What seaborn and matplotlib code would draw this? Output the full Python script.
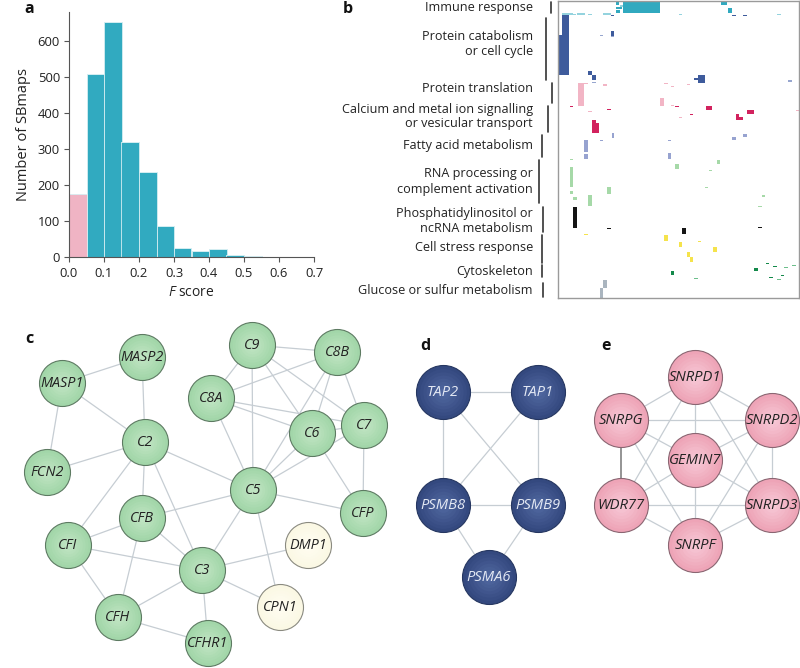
import numpy as np
import pandas as pd
import matplotlib
matplotlib.use("Agg")
import matplotlib.pyplot as plt
from matplotlib.colors import ListedColormap, to_rgb
import seaborn as sns

sns.set_style("white")
plt.rcParams['font.family'] = ['Open Sans', 'DejaVu Sans']
plt.rcParams['mathtext.fontset'] = 'custom'
plt.rcParams['mathtext.rm'] = 'Open Sans'
plt.rcParams['mathtext.it'] = 'Open Sans:italic'

# ---------------- Panel a data ----------------
bin_edges = [0.0, 0.05, 0.10, 0.15, 0.20, 0.25, 0.30, 0.35, 0.40, 0.45, 0.50, 0.55, 0.60, 0.65, 0.70]
bin_counts = [176, 507, 651, 318, 236, 86, 26, 17, 23, 5, 3, 1, 1, 0]
bin_group = ['low'] + ['high'] * 13
xticks_a = [0.0, 0.1, 0.2, 0.3, 0.4, 0.5, 0.6, 0.7]
yticks_a = [0, 100, 200, 300, 400, 500, 600]

# ---------------- Panel b data ----------------
b_categories = ['immune', 'immune_light', 'catabolism', 'catabolism_light', 'translation',
                'calcium', 'fatty', 'rna', 'pi', 'stress', 'cyto', 'cyto_light', 'glucose']
b_colors = ['#31a9bf', '#94d3de', '#3e5b9c', '#97a6cf', '#f2b5c5',
            '#d2225e', '#97a3d0', '#a6d9a8', '#151515', '#f5e34c', '#13894a', '#6cbf8b', '#aab5bf']
# blocks: (col, row, width, height, category)
b_blocks = [
    (65, 1, 37, 11, 'immune'), (58, 1, 3, 3, 'immune'), (58, 6, 6, 2, 'immune'),
    (58, 9, 4, 3, 'immune'), (62, 4, 3, 2, 'immune_light'),
    (163, 0, 6, 4, 'immune'), (170, 7, 4, 5, 'immune'),
    (4, 12, 11, 2, 'immune_light'), (15, 13, 3, 1, 'immune_light'), (19, 12, 8, 2, 'immune_light'),
    (30, 13, 4, 1, 'immune_light'), (45, 12, 8, 2, 'immune_light'), (121, 13, 3, 1, 'immune_light'),
    (219, 13, 4, 1, 'immune_light'),
    (4, 14, 7, 20, 'catabolism'), (0, 34, 11, 40, 'catabolism'), (53, 30, 3, 5, 'catabolism'),
    (30, 70, 4, 4, 'catabolism'), (34, 74, 4, 5, 'catabolism'), (136, 77, 4, 2, 'catabolism'),
    (140, 74, 7, 8, 'catabolism'), (174, 14, 4, 1, 'catabolism'), (185, 14, 4, 1, 'catabolism'),
    (53, 14, 3, 1, 'catabolism'),
    (42, 34, 3, 1, 'catabolism_light'), (53, 35, 3, 1, 'catabolism_light'),
    (34, 81, 4, 1, 'catabolism_light'), (230, 79, 4, 2, 'catabolism_light'),
    (20, 82, 6, 23, 'translation'), (20, 82, 10, 1, 'translation'), (45, 83, 4, 2, 'translation'),
    (102, 97, 4, 8, 'translation'), (106, 82, 4, 1, 'translation'), (113, 85, 3, 1, 'translation'),
    (129, 83, 3, 1, 'translation'), (113, 104, 3, 1, 'translation'), (30, 110, 4, 1, 'translation'),
    (121, 116, 3, 1, 'translation'), (238, 109, 4, 1, 'translation'),
    (12, 105, 3, 1, 'calcium'), (49, 108, 4, 1, 'calcium'), (34, 119, 4, 3, 'calcium'),
    (34, 122, 7, 10, 'calcium'), (117, 105, 4, 1, 'calcium'), (132, 113, 3, 1, 'calcium'),
    (148, 105, 6, 4, 'calcium'), (178, 113, 3, 6, 'calcium'), (178, 116, 7, 3, 'calcium'),
    (189, 109, 7, 4, 'calcium'),
    (54, 132, 2, 5, 'fatty'), (42, 139, 3, 1, 'fatty'), (26, 139, 4, 12, 'fatty'),
    (26, 153, 4, 5, 'fatty'), (110, 139, 3, 1, 'fatty'), (110, 152, 3, 6, 'fatty'),
    (174, 136, 4, 3, 'fatty'), (185, 133, 4, 3, 'fatty'),
    (12, 158, 3, 1, 'rna'), (12, 166, 3, 20, 'rna'), (12, 190, 3, 3, 'rna'), (15, 196, 4, 3, 'rna'),
    (30, 194, 4, 11, 'rna'), (49, 186, 4, 7, 'rna'), (117, 163, 4, 5, 'rna'), (159, 159, 3, 4, 'rna'),
    (151, 169, 3, 1, 'rna'), (147, 186, 3, 1, 'rna'), (204, 194, 3, 2, 'rna'), (200, 205, 4, 1, 'rna'),
    (15, 206, 4, 21, 'pi'), (49, 227, 4, 1, 'pi'), (124, 227, 4, 6, 'pi'), (200, 226, 4, 1, 'pi'),
    (26, 233, 4, 1, 'stress'), (106, 234, 4, 6, 'stress'), (121, 241, 3, 5, 'stress'),
    (140, 240, 3, 1, 'stress'), (129, 251, 3, 5, 'stress'), (132, 256, 3, 5, 'stress'),
    (155, 246, 4, 5, 'stress'),
    (113, 270, 3, 4, 'cyto'), (196, 267, 4, 3, 'cyto'), (208, 262, 3, 1, 'cyto'), (215, 265, 4, 1, 'cyto'),
    (211, 276, 4, 1, 'cyto'), (223, 274, 3, 1, 'cyto'),
    (136, 277, 4, 1, 'cyto_light'), (226, 266, 4, 1, 'cyto_light'), (234, 264, 4, 1, 'cyto_light'),
    (219, 278, 4, 1, 'cyto_light'),
    (45, 279, 4, 8, 'glucose'), (42, 287, 3, 10, 'glucose'),
]
b_labels = [
    (['Immune response'], [7], 551, 2, 13),
    (['Protein catabolism', 'or cell cycle'], [37, 52], 546, 18, 80),
    (['Protein translation'], [89], 552, 83, 103),
    (['Calcium and metal ion signalling', 'or vesicular transport'], [109, 124], 548, 106, 132),
    (['Fatty acid metabolism'], [145], 542, 135, 157),
    (['RNA processing or', 'complement activation'], [174, 189], 539, 160, 203),
    (['Phosphatidylinositol or', 'ncRNA metabolism'], [213, 228], 543, 207, 232),
    (['Cell stress response'], [248], 542, 235, 263),
    (['Cytoskeleton'], [271], 542, 265, 277),
    (['Glucose or sulfur metabolism'], [290], 543, 283, 297),
]

# ---------------- Networks data (pixel positions) ----------------
c_nodes = {
    'MASP2': (142, 357), 'MASP1': (62, 383), 'FCN2': (47, 472), 'C2': (145, 442),
    'C9': (252, 345), 'C8B': (337, 352), 'C8A': (211, 398), 'C6': (312, 433),
    'C7': (364, 425), 'C5': (253, 490), 'CFP': (363, 513), 'CFB': (142, 518),
    'CFI': (68, 545), 'C3': (202, 570), 'DMP1': (308, 545), 'CPN1': (280, 607),
    'CFH': (118, 617), 'CFHR1': (208, 643),
}
c_cream = ['DMP1', 'CPN1']
c_edges = [
    ('MASP1', 'MASP2'), ('MASP1', 'FCN2'), ('MASP1', 'C2'), ('MASP2', 'C2'), ('FCN2', 'C2'),
    ('C2', 'CFB'), ('C2', 'CFI'), ('C2', 'C3'), ('C2', 'C5'),
    ('C9', 'C8B'), ('C9', 'C8A'), ('C9', 'C5'), ('C9', 'C6'), ('C9', 'C7'),
    ('C8B', 'C8A'), ('C8B', 'C6'), ('C8B', 'C5'), ('C8B', 'C7'),
    ('C8A', 'C7'), ('C8A', 'C6'), ('C8A', 'C5'),
    ('C6', 'C7'), ('C6', 'C5'), ('C6', 'CFP'), ('C7', 'C5'), ('C7', 'CFP'),
    ('C5', 'CFP'), ('C5', 'CFB'), ('C5', 'C3'), ('C5', 'CPN1'),
    ('CFB', 'CFI'), ('CFB', 'C3'), ('CFB', 'CFH'), ('CFI', 'C3'), ('CFI', 'CFH'),
    ('C3', 'CFH'), ('C3', 'CFHR1'), ('C3', 'DMP1'), ('C3', 'CPN1'), ('CFH', 'CFHR1'),
]
d_nodes = {'TAP2': (443, 392), 'TAP1': (538, 392), 'PSMB8': (443, 505),
           'PSMB9': (538, 505), 'PSMA6': (489, 577)}
d_edges = [('TAP2', 'TAP1'), ('TAP2', 'PSMB8'), ('TAP2', 'PSMB9'), ('TAP1', 'PSMB8'),
           ('TAP1', 'PSMB9'), ('PSMB8', 'PSMB9'), ('PSMB8', 'PSMA6'), ('PSMB9', 'PSMA6')]
e_nodes = {'SNRPD1': (695, 377), 'SNRPG': (621, 420), 'SNRPD2': (772, 420),
           'GEMIN7': (695, 460), 'WDR77': (621, 505), 'SNRPD3': (772, 505),
           'SNRPF': (695, 545)}
e_edges = [('SNRPD1', 'SNRPG'), ('SNRPD1', 'SNRPD2'), ('SNRPD1', 'GEMIN7'), ('SNRPD1', 'WDR77'),
           ('SNRPD1', 'SNRPD3'), ('SNRPG', 'SNRPD2'), ('SNRPG', 'GEMIN7'),
           ('SNRPG', 'SNRPF'), ('SNRPD2', 'GEMIN7'), ('SNRPD2', 'SNRPD3'), ('SNRPD2', 'SNRPF'),
           ('GEMIN7', 'WDR77'), ('GEMIN7', 'SNRPD3'), ('GEMIN7', 'SNRPF'), ('WDR77', 'SNRPD3'),
           ('WDR77', 'SNRPF'), ('SNRPD3', 'SNRPF')]
e_dark_edges = [('SNRPG', 'WDR77')]

W, H = 800, 668
fig = plt.figure(figsize=(8, 6.68), dpi=100)

def frac(x0, y0, x1, y1):
    return [x0 / W, 1 - y1 / H, (x1 - x0) / W, (y1 - y0) / H]

# ---------------- Panel a ----------------
axa = fig.add_axes(frac(69, 12, 314, 257))
dfa = pd.DataFrame({'center': [(bin_edges[i] + bin_edges[i + 1]) / 2 for i in range(len(bin_counts))],
                    'count': bin_counts, 'group': bin_group})
sns.histplot(data=dfa, x='center', weights='count', bins=bin_edges, hue='group',
             hue_order=['low', 'high'], palette={'low': '#f0b4c4', 'high': '#31aac0'},
             multiple='stack', alpha=1, edgecolor='#d5eef2', linewidth=0.6,
             legend=False, ax=axa)
axa.set_xlim(0, 0.7)
axa.set_ylim(0, 680)
axa.set_xticks(xticks_a)
axa.set_xticklabels([f'{t:.1f}' for t in xticks_a])
axa.set_yticks(yticks_a)
axa.set_xlabel('$\\mathit{F}$ score', fontsize=10, color='#222', labelpad=3)
axa.set_ylabel('Number of SBmaps', fontsize=10.5, color='#222', labelpad=5)
for s in ['top', 'right']:
    axa.spines[s].set_visible(False)
for s in ['left', 'bottom']:
    axa.spines[s].set_color('#555')
    axa.spines[s].set_linewidth(0.8)
axa.tick_params(direction='out', length=3.5, width=0.8, color='#555', labelsize=9.4,
                labelcolor='#222', pad=3, left=True, bottom=True)
axa.tick_params(axis='x', pad=4)

# ---------------- Panel b ----------------
axb = fig.add_axes(frac(558, 1, 799, 298))
nrows, ncols = 297, 241
M = np.zeros((nrows, ncols))
for (c0, r0, w, h, cat) in b_blocks:
    M[r0:min(r0 + h, nrows), c0:min(c0 + w, ncols)] = b_categories.index(cat) + 1
cmap = ListedColormap(b_colors)
sns.heatmap(M, mask=(M == 0), cmap=cmap, vmin=0.5, vmax=len(b_colors) + 0.5, cbar=False,
            xticklabels=False, yticklabels=False, ax=axb, rasterized=True)
for s in axb.spines.values():
    s.set_visible(True)
    s.set_color('#9a9a9a')
    s.set_linewidth(1.0)

# ---------------- Overlay ----------------
ax0 = fig.add_axes([0, 0, 1, 1])
ax0.set_xlim(0, W)
ax0.set_ylim(H, 0)
ax0.axis('off')
ax0.patch.set_alpha(0)

for lines, ys, bx, by0, by1 in b_labels:
    for t, y in zip(lines, ys):
        ax0.text(533, y, t, ha='right', va='center', fontsize=9.1, color='#222')
ax_br = pd.DataFrame([{'x': bx, 'y': yy, 'eid': i} for i, (_, _, bx, by0, by1) in enumerate(b_labels)
                      for yy in (by0, by1)])
sns.lineplot(data=ax_br, x='x', y='y', units='eid', estimator=None, sort=False,
             color='#333', lw=1.2, ax=ax0, legend=False)

for lab, (x, y) in {'a': (29, 9), 'b': (348, 9), 'c': (29, 339), 'd': (425, 346), 'e': (606, 346)}.items():
    ax0.text(x, y, lab, ha='center', va='center', fontsize=11.5, fontweight='bold', color='#111')

def mix(c1, c2, t):
    a, b = np.array(to_rgb(c1)), np.array(to_rgb(c2))
    return tuple(a * (1 - t) + b * t)

def draw_network(nodes, edges, radius_px, base, light, edgec, textc, fsize, special=None, dark_edges=()):
    rows = []
    for i, (u, v) in enumerate(edges):
        for n in (u, v):
            rows.append({'x': nodes[n][0], 'y': nodes[n][1], 'eid': i})
    edf = pd.DataFrame(rows)
    sns.lineplot(data=edf, x='x', y='y', units='eid', estimator=None, sort=False,
                 color='#c6cdd3', lw=0.9, ax=ax0, legend=False, zorder=1)
    if dark_edges:
        rows = []
        for i, (u, v) in enumerate(dark_edges):
            for n in (u, v):
                rows.append({'x': nodes[n][0], 'y': nodes[n][1], 'eid': i})
        sns.lineplot(data=pd.DataFrame(rows), x='x', y='y', units='eid', estimator=None, sort=False,
                     color='#777', lw=1.1, ax=ax0, legend=False, zorder=1)
    names = list(nodes.keys())
    groups = {}
    for n in names:
        key = 'special' if (special and n in special) else 'base'
        groups.setdefault(key, []).append(n)
    diam_pt = 2 * radius_px * 72 / 100
    for key, ns in groups.items():
        b, l, ec = (base, light, edgec) if key == 'base' else ('#fbf8e4', '#fffdf3', '#8a8a80')
        xs = [nodes[n][0] for n in ns]
        ys = [nodes[n][1] for n in ns]
        sns.scatterplot(x=xs, y=ys, s=diam_pt ** 2, color=b, edgecolor=ec, linewidth=0.8,
                        ax=ax0, zorder=3, legend=False)
        nl = 8
        for k in range(1, nl):
            f = 1 - k / nl
            sns.scatterplot(x=xs, y=ys, s=(diam_pt * (0.96 * f + 0.04)) ** 2 * 0.97,
                            color=mix(b, l, k / nl), linewidth=0, ax=ax0, zorder=3 + k, legend=False)
    for n in names:
        ax0.text(nodes[n][0], nodes[n][1] + 0.5, n, ha='center', va='center', fontsize=fsize,
                 style='italic', color=textc, zorder=20)

draw_network(c_nodes, c_edges, 23, '#a2d6a9', '#c3e6c5', '#5d7a62', '#222', 10.4, special=c_cream)
draw_network(d_nodes, d_edges, 27, '#34497f', '#536aa3', '#263761', '#e4e9f4', 10.6)
draw_network(e_nodes, e_edges, 27, '#eea4b7', '#f7cbd8', '#8a6672', '#222', 10.6, dark_edges=e_dark_edges)

fig.savefig('out.png', dpi=100)
